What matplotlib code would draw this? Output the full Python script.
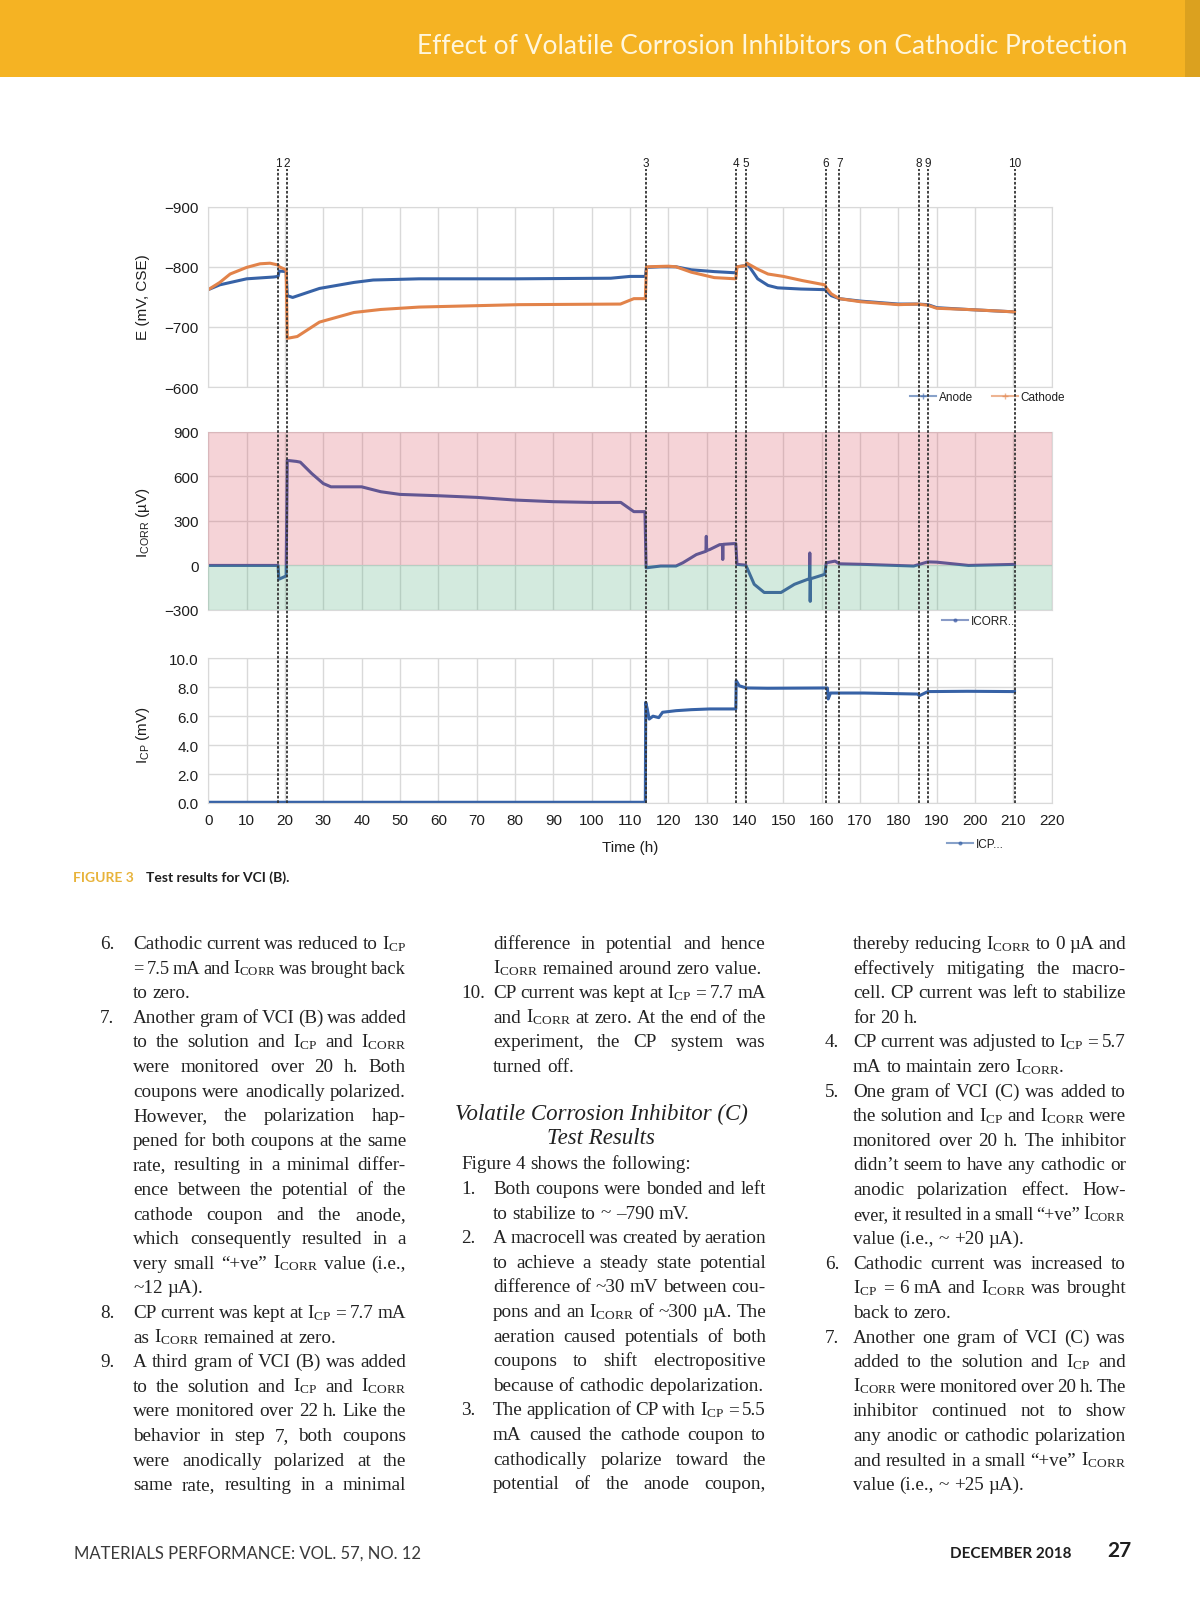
import matplotlib
matplotlib.use('Agg')
import matplotlib.pyplot as plt
import matplotlib.transforms as mtransforms
from matplotlib.lines import Line2D
from matplotlib.patches import Rectangle

W, H = 1200, 1606

# ---- chart data ----
anode_t = [0, 3, 10, 17, 18.2, 18.5, 20.3, 20.6, 22, 29, 38, 43, 55, 80, 105, 110, 114, 114.3, 118, 122,
           126, 132, 137.6, 137.9, 140.2, 140.5, 143.3, 146, 148.5, 154.6, 160.8, 161.2, 162.5, 164.6, 170,
           180, 185, 187.7, 190, 198, 210.3]
anode_e = [-762, -770, -780, -783, -784, -793, -792, -752, -749, -764, -774, -778, -780, -780, -781, -784,
           -784, -799, -800, -800, -795, -792, -790, -800, -802, -806, -780, -769, -765, -763, -762, -760,
           -752, -747, -743, -738, -738, -737, -732, -729, -725]

cathode_t = [0, 3, 5.7, 10, 13.5, 16.1, 18.2, 18.5, 20.3, 20.6, 23.2, 29, 38, 45, 55, 81, 107.5, 111, 114,
             114.3, 120, 122, 126, 132, 137.6, 137.9, 140.2, 140.5, 143.3, 146, 150, 155, 160.8, 161.2,
             162.5, 164.6, 170, 180, 185, 187.7, 190, 198, 210.3]
cathode_e = [-762, -774, -788, -799, -805, -806, -803, -800, -795, -681, -684, -708, -724, -729, -733, -737,
             -738, -747, -747, -800, -801, -800, -791, -782, -780, -800, -802, -806, -796, -788, -784, -777,
             -770, -765, -755, -747, -742, -737, -738, -736, -731, -729, -725]

icorr_t = [0, 18.2, 18.4, 20.3, 20.6, 23, 24, 27, 30, 32, 40, 45, 50, 60, 70, 80, 90, 100, 107.6, 111,
           113.9, 114.2, 118, 122, 123.8, 127.3, 129.8, 129.9, 130.0, 130.8, 133.4, 134.1, 134.2, 134.3,
           137.2, 137.6, 137.9, 140.2, 142.4, 145, 149.4, 152.9, 156.4, 156.8, 156.9, 157.0, 157.1, 160.8,
           161.2, 163.5, 164.6, 171, 184, 187.7, 190, 198.3, 210.3]
icorr_v = [0, 0, -93, -71, 707, 700, 695, 618, 551, 529, 529, 496, 478, 469, 458, 440, 429, 424, 424, 362,
           362, -16, -4, -4, 18, 73, 95, 196, 100, 107, 140, 140, 40, 142, 147, 147, 7, 2, -127, -182,
           -182, -127, -93, -93, 84, -242, -90, -60, 18, 29, 11, 7, -4, 24, 22, 0, 7]

icp_t = [0, 114, 114.1, 114.5, 115, 116, 117.5, 118.5, 122, 126, 130.8, 137.6, 137.7, 138.5, 140.4, 145.9,
         161.5, 161.7, 162.3, 171, 185, 185.5, 187.7, 198, 210.3]
icp_v = [0.05, 0.05, 6.96, 6.5, 5.8, 6.0, 5.9, 6.27, 6.38, 6.45, 6.5, 6.5, 8.46, 8.1, 7.95, 7.93, 7.95,
         7.19, 7.6, 7.6, 7.53, 7.42, 7.7, 7.72, 7.7]

event_labels = ['1', '2', '3', '4', '5', '6', '7', '8', '9', '10']
event_t = [18.3, 20.5, 114.1, 137.7, 140.2, 161.0, 164.6, 185.3, 187.7, 210.3]

e_ticks = [-900, -800, -700, -600]
icorr_ticks = [900, 600, 300, 0, -300]
icp_ticks = [10, 8, 6, 4, 2, 0]
time_ticks = list(range(0, 221, 10))

# ---- page text ----
CP = r'$\mathregular{I_{CP}}$'
CORR = r'$\mathregular{I_{CORR}}$'

header_title = 'Effect of Volatile Corrosion Inhibitors on Cathodic Protection'
caption_tag = 'FIGURE 3'
caption_text = 'Test results for VCI (B).'
footer_left = 'MATERIALS PERFORMANCE: VOL. 57, NO. 12'
footer_date = 'DECEMBER 2018'
footer_page = '27'

# (item number, line, justified)
col1 = [
    ('6.', f'Cathodic current was reduced to {CP}', True),
    ('', f'= 7.5 mA and {CORR} was brought back', True),
    ('', 'to zero.', False),
    ('7.', 'Another gram of VCI (B) was added', True),
    ('', f'to the solution and {CP} and {CORR}', True),
    ('', 'were monitored over 20 h. Both', True),
    ('', 'coupons were anodically polarized.', True),
    ('', 'However, the polarization hap-', True),
    ('', 'pened for both coupons at the same', True),
    ('', 'rate, resulting in a minimal differ-', True),
    ('', 'ence between the potential of the', True),
    ('', 'cathode coupon and the anode,', True),
    ('', 'which consequently resulted in a', True),
    ('', f'very small \u201c+ve\u201d {CORR} value (i.e.,', True),
    ('', '~12 \u00b5A).', False),
    ('8.', f'CP current was kept at {CP} = 7.7 mA', True),
    ('', f'as {CORR} remained at zero.', False),
    ('9.', 'A third gram of VCI (B) was added', True),
    ('', f'to the solution and {CP} and {CORR}', True),
    ('', 'were monitored over 22 h. Like the', True),
    ('', 'behavior in step 7, both coupons', True),
    ('', 'were anodically polarized at the', True),
    ('', 'same rate, resulting in a minimal', True),
]
col2_top = [
    ('', 'difference in potential and hence', True),
    ('', f'{CORR} remained around zero value.', False),
    ('10.', f'CP current was kept at {CP} = 7.7 mA', True),
    ('', f'and {CORR} at zero. At the end of the', True),
    ('', 'experiment, the CP system was', True),
    ('', 'turned off.', False),
]
col2_heading = ['Volatile Corrosion Inhibitor (C)', 'Test Results']
col2_intro = 'Figure 4 shows the following:'
col2_bottom = [
    ('1.', 'Both coupons were bonded and left', True),
    ('', 'to stabilize to ~ \u2013790 mV.', False),
    ('2.', 'A macrocell was created by aeration', True),
    ('', 'to achieve a steady state potential', True),
    ('', 'difference of ~30 mV between cou-', True),
    ('', f'pons and an {CORR} of ~300 \u00b5A. The', True),
    ('', 'aeration caused potentials of both', True),
    ('', 'coupons to shift electropositive', True),
    ('', 'because of cathodic depolarization.', False),
    ('3.', f'The application of CP with {CP} = 5.5', True),
    ('', 'mA caused the cathode coupon to', True),
    ('', 'cathodically polarize toward the', True),
    ('', 'potential of the anode coupon,', True),
]
col3 = [
    ('', f'thereby reducing {CORR} to 0 \u00b5A and', True),
    ('', 'effectively mitigating the macro-', True),
    ('', 'cell. CP current was left to stabilize', True),
    ('', 'for 20 h.', False),
    ('4.', f'CP current was adjusted to {CP} = 5.7', True),
    ('', f'mA to maintain zero {CORR}.', False),
    ('5.', 'One gram of VCI (C) was added to', True),
    ('', f'the solution and {CP} and {CORR} were', True),
    ('', 'monitored over 20 h. The inhibitor', True),
    ('', 'didn\u2019t seem to have any cathodic or', True),
    ('', 'anodic polarization effect. How-', True),
    ('', f'ever, it resulted in a small \u201c+ve\u201d {CORR}', True),
    ('', 'value (i.e., ~ +20 \u00b5A).', False),
    ('6.', 'Cathodic current was increased to', True),
    ('', f'{CP} = 6 mA and {CORR} was brought', True),
    ('', 'back to zero.', False),
    ('7.', 'Another one gram of VCI (C) was', True),
    ('', f'added to the solution and {CP} and', True),
    ('', f'{CORR} were monitored over 20 h. The', True),
    ('', 'inhibitor continued not to show', True),
    ('', 'any anodic or cathodic polarization', True),
    ('', f'and resulted in a small \u201c+ve\u201d {CORR}', True),
    ('', 'value (i.e., ~ +25 \u00b5A).', False),
]

# ---- styling ----
SANS = ['Liberation Sans', 'DejaVu Sans']
SERIF = ['Liberation Serif', 'DejaVu Serif']
plt.rcParams['font.family'] = SANS
blue = '#3762a6'
orange = '#e2834a'
icorr_blue = '#3a58a3'
grid_c = '#d9d9d9'
ink = '#1e1e1e'


def fig_xy(x, y):
    return x / W, 1 - y / H


fig = plt.figure(figsize=(W / 100, H / 100), dpi=100)

# header band
fig.patches.append(Rectangle((0, 1 - 78 / H), 1, 78 / H, transform=fig.transFigure,
                             facecolor='#f5b323', edgecolor='none'))
fig.patches.append(Rectangle((1185 / W, 1 - 78 / H), 15 / W, 78 / H, transform=fig.transFigure,
                             facecolor='#dba11f', edgecolor='none'))
fig.text(*fig_xy(1127, 47), header_title, ha='right', va='center', fontsize=19,
         color='#fff6dc', family=['Lato', 'DejaVu Sans'])

# chart panels
left, right = 208.3, 1051.7


def make_axes(top, bottom):
    return fig.add_axes([left / W, 1 - bottom / H, (right - left) / W, (bottom - top) / H])


ax1 = make_axes(207.7, 388)
ax2 = make_axes(432.7, 611)
ax3 = make_axes(659.3, 804)

for ax in (ax1, ax2, ax3):
    ax.set_xlim(0, 220)
    ax.set_xticks(time_ticks)
    ax.grid(True, color=grid_c, lw=1)
    ax.set_axisbelow(True)
    ax.tick_params(length=0, labelsize=11, colors=ink, pad=7)
    for s in ax.spines.values():
        s.set_color(grid_c)
    ax.set_facecolor('none')

ax1.plot(anode_t, anode_e, color=blue, lw=2.2, zorder=2)
ax1.plot(cathode_t, cathode_e, color=orange, lw=2.2, zorder=2)
ax1.set_ylim(-600, -900)
ax1.set_yticks(e_ticks)
ax1.set_xticklabels([])

ax2.plot(icorr_t, icorr_v, color=icorr_blue, lw=2.2, zorder=2)
ax2.axhspan(0, 900, color='#db5363', alpha=0.25, lw=0, zorder=3)
ax2.axhspan(-300, 0, color='#53af7f', alpha=0.25, lw=0, zorder=3)
ax2.set_ylim(-300, 900)
ax2.set_yticks(icorr_ticks)
ax2.set_xticklabels([])

ax3.plot(icp_t, icp_v, color=blue, lw=2.2, zorder=2)
ax3.set_ylim(0, 10)
ax3.set_yticks(icp_ticks)
ax3.set_yticklabels([f'{v:.1f}' for v in icp_ticks])
ax3.set_xticklabels([str(t) for t in time_ticks])

# axis titles
fig.text(*fig_xy(143, 297), 'E (mV, CSE)', rotation=90, ha='center', va='center', fontsize=11, color=ink)
fig.text(*fig_xy(143, 523), CORR + ' (\u00b5V)', rotation=90, ha='center', va='center', fontsize=11, color=ink)
fig.text(*fig_xy(143, 735), CP + ' (mV)', rotation=90, ha='center', va='center', fontsize=11, color=ink)
fig.text(*fig_xy(630, 848), 'Time (h)', ha='center', va='center', fontsize=11, color=ink)

# legends
leg_kw = dict(loc='center left', bbox_transform=fig.transFigure, frameon=False, fontsize=8.5,
              handlelength=2.2, handletextpad=0.25, borderpad=0, borderaxespad=0, columnspacing=1.6,
              labelcolor=ink)
h_anode = Line2D([], [], color=blue, lw=1.5, marker='+', ms=5, alpha=0.6)
h_cath = Line2D([], [], color=orange, lw=1.5, marker='+', ms=5, alpha=0.6)
ax1.legend([h_anode, h_cath], ['Anode', 'Cathode'], ncol=2, bbox_to_anchor=fig_xy(910, 398), **leg_kw)
h_icorr = Line2D([], [], color=icorr_blue, lw=1.5, marker='.', ms=4, alpha=0.6)
ax2.legend([h_icorr], ['ICORR..'], bbox_to_anchor=fig_xy(942, 622), **leg_kw)
h_icp = Line2D([], [], color=blue, lw=1.5, marker='.', ms=4, alpha=0.6)
ax3.legend([h_icp], ['ICP...'], bbox_to_anchor=fig_xy(947, 845), **leg_kw)

# event markers spanning all panels
ov = fig.add_axes([left / W, 1 - 804 / H, (right - left) / W, (804 - 170) / H], zorder=5)
ov.set_xlim(0, 220)
ov.axis('off')
lab_tr = mtransforms.blended_transform_factory(ov.transData, fig.transFigure)
for lab, t in zip(event_labels, event_t):
    ov.axvline(t, color='#333333', lw=1.3, ls=(0, (1.5, 1.0)))
    ov.text(t, 1 - 164 / H, lab, transform=lab_tr, ha='center', va='center', fontsize=8.5, color=ink)

# caption
fig.text(*fig_xy(73, 878), caption_tag, ha='left', va='center', fontsize=10, fontweight='bold',
         color='#e8b33a', family=['Lato', 'DejaVu Sans'])
fig.text(*fig_xy(146, 878), caption_text, ha='left', va='center', fontsize=10, fontweight='bold',
         color=ink, family=['Lato', 'DejaVu Sans'])

# body text, justified word by word
renderer = fig.canvas.get_renderer()
BODY = dict(fontsize=13.8, color='#222222', family=SERIF, va='baseline', ha='left')
space_px = 0.25 * BODY['fontsize'] * 100 / 72


def put_line(x0, x1, y, text, justify):
    words = text.split(' ')
    objs = [fig.text(0, 0, w, **BODY) for w in words]
    widths = [o.get_window_extent(renderer).width for o in objs]
    gap = space_px
    n = len(words)
    if justify and n > 1:
        min_gap = space_px * 0.7
        need = sum(widths) + (n - 1) * min_gap
        if need > x1 - x0:
            # squeeze the over-long line a little instead of letting it overflow
            k = (x1 - x0) / need
            for o in objs:
                o.set_fontsize(BODY['fontsize'] * k)
            widths = [o.get_window_extent(renderer).width for o in objs]
        gap = (x1 - x0 - sum(widths)) / (n - 1)
    x = x0
    for o, w in zip(objs, widths):
        o.set_position(fig_xy(x, y))
        x += w + gap


def put_column(lines, num_x, x0, x1, y0, pitch=24.6):
    for i, (num, text, just) in enumerate(lines):
        y = y0 + i * pitch + 5
        if num:
            fig.text(*fig_xy(num_x, y), num, **BODY)
        put_line(x0, x1, y, text, just)


put_column(col1, 100, 133, 406, 944)
put_column(col2_top, 461, 493, 766, 944)
fig.text(*fig_xy(601, 1114), col2_heading[0], ha='center', va='center', fontsize=16.5,
         fontstyle='italic', family=SERIF, color='#222222')
fig.text(*fig_xy(601, 1139), col2_heading[1], ha='center', va='center', fontsize=16.5,
         fontstyle='italic', family=SERIF, color='#222222')
put_line(461, 766, 1164 + 5, col2_intro, False)
put_column(col2_bottom, 461, 493, 766, 1189)
put_column(col3, 825, 853, 1126, 944)

# footer
fig.text(*fig_xy(74, 1554), footer_left, ha='left', va='center', fontsize=12, color='#3a3a3a',
         family=['Lato', 'DejaVu Sans'])
fig.text(*fig_xy(1071, 1554), footer_date, ha='right', va='center', fontsize=11, color=ink,
         family=['Lato', 'DejaVu Sans'], fontweight='bold')
fig.text(*fig_xy(1131, 1551), footer_page, ha='right', va='center', fontsize=15, color=ink,
         family=['Lato', 'DejaVu Sans'], fontweight='bold')

fig.savefig('out.png', dpi=100)
